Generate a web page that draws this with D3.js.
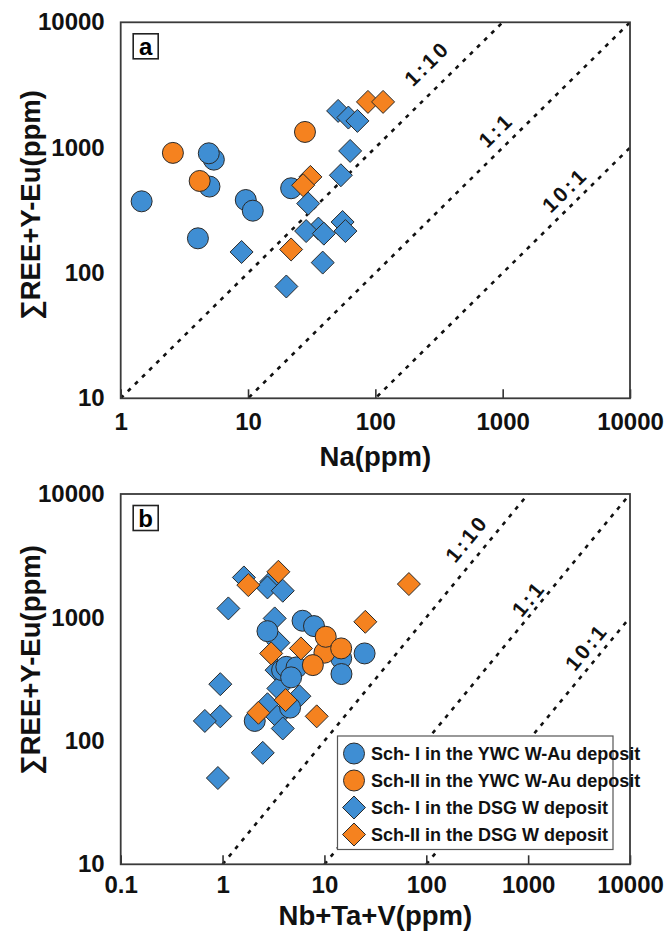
<!DOCTYPE html>
<html>
<head>
<meta charset="utf-8">
<script src="https://cdn.jsdelivr.net/npm/d3@7"></script>
<style>
  body { margin: 0; background: #fff; }
  svg { font-family: "Liberation Sans", Arial, sans-serif; font-weight: bold; }
  .tick text { font-size: 24px; fill: #111; }
  .axis-title { font-size: 27.5px; fill: #111; }
  .ratio-line { fill: none; stroke: #111; stroke-width: 2.6; stroke-dasharray: 4 6; }
  .ratio-label { font-size: 21px; fill: #111; letter-spacing: 3px; }
  .frame { fill: none; stroke: #3a3a3a; stroke-width: 1.8; }
  .marker { stroke: #2a2a2a; stroke-width: 1; }
  .legend-text { font-size: 18px; fill: #111; }
</style>
</head>
<body>
<div id="wrapper"></div>
<script>
// series (legend order)
const seriesNames = [
  "Sch- I in the YWC W-Au deposit",
  "Sch-II in the YWC W-Au deposit",
  "Sch- I in the DSG W deposit",
  "Sch-II in the DSG W deposit",
]

// panel a: Na (ppm) vs REE+Y-Eu (ppm)
const naYwc1 = [[1.46, 373], [5.39, 802], [4.92, 901], [4.98, 489], [9.6, 382], [10.9, 314], [4.04, 189], [21.8, 474]]
const naYwc2 = [[2.57, 908], [4.17, 542], [28, 1334]]
const naDsg1 = [[51, 1963], [61.4, 1738], [72.3, 1634], [63.4, 941], [53.6, 602], [29.7, 358],
  [35.7, 226], [28.6, 216], [39.4, 206], [55.3, 255], [58.2, 216], [8.9, 147], [38.6, 121], [20, 78]]
const naDsg2 = [[87.5, 2317], [115, 2317], [30.9, 584], [27.1, 501], [21.8, 154]]

// panel b: Nb+Ta+V (ppm) vs REE+Y-Eu (ppm)
const nbYwc1 = [[2.76, 774], [6.1, 940], [7.9, 851], [14.6, 466], [3.84, 374], [4.23, 398], [5.32, 394],
  [4.71, 327], [14.7, 348], [24.8, 511], [4.6, 186], [2.07, 145]]
const nbYwc2 = [[10, 518], [10.3, 697], [14.6, 561], [7.7, 411]]
const nbDsg1 = [[1.62, 2108], [3.0, 1945], [2.76, 1750], [3.9, 1645], [1.14, 1183], [3.25, 982], [3.53, 624],
  [0.95, 288], [3.39, 374], [3.53, 266], [5.68, 230], [2.76, 198], [3.44, 157], [0.95, 158], [0.67, 145],
  [3.9, 126], [2.48, 80], [0.9, 50]]
const nbDsg2 = [[3.53, 2344], [1.79, 1828], [67.5, 1864], [25.2, 922], [3.0, 511], [5.88, 561],
  [4.16, 214], [2.25, 169], [8.4, 158]]

// reference ratio lines (y = k * x)
const ratioNames = ["1:10", "1:1", "10:1"]
const ratioValues = [10, 1, 0.1]

const naTicks = [1, 10, 100, 1000, 10000]
const nbTicks = [0.1, 1, 10, 100, 1000, 10000]
const yTicks = [10, 100, 1000, 10000]

// styling
const seriesColors = ["#3f8ed3", "#f5821f", "#3f8ed3", "#f5821f"]
const seriesShapes = ["circle", "circle", "diamond", "diamond"]
const drawOrder = [2, 0, 1, 3]

const dims = { width: 668, height: 932, left: 120.7, right: 630, markerR: 10.5, diamondR: 11.5 }

const panels = [
  {
    id: "a", top: 22.3, bottom: 398.3, xDomain: [1, 10000], xTicks: naTicks, xPad: 15,
    xTitle: "Na(ppm)", xTitleY: 466, yTitleY: 205,
    series: [naYwc1, naYwc2, naDsg1, naDsg2],
    labelAt: [[255, 4710], [886, 1384], [3083, 460]],
  },
  {
    id: "b", top: 494, bottom: 864.3, xDomain: [0.1, 10000], xTicks: nbTicks, xPad: 12,
    xTitle: "Nb+Ta+V(ppm)", xTitleY: 925, yTitleY: 660,
    series: [nbYwc1, nbYwc2, nbDsg1, nbDsg2],
    labelAt: [[250, 4365], [1009, 1426], [3741, 578]],
    legend: true,
  },
]

const svg = d3.select("#wrapper").append("svg")
  .attr("width", dims.width)
  .attr("height", dims.height)

const diamondPath = r => `M0,${-r}L${r},0L0,${r}L${-r},0Z`

function drawMarker(sel, shape, color) {
  if (shape == "circle") {
    sel.append("circle").attr("class", "marker").attr("r", dims.markerR).attr("fill", color)
  } else {
    sel.append("path").attr("class", "marker").attr("d", diamondPath(dims.diamondR)).attr("fill", color)
  }
}

function drawPanel(p) {
  const x = d3.scaleLog().domain(p.xDomain).range([dims.left, dims.right])
  const y = d3.scaleLog().domain([10, 10000]).range([p.bottom, p.top])
  const g = svg.append("g")

  const clipId = "clip-" + p.id
  g.append("clipPath").attr("id", clipId)
    .append("rect")
      .attr("x", dims.left).attr("y", p.top)
      .attr("width", dims.right - dims.left).attr("height", p.bottom - p.top)

  // ratio lines
  const lineGen = d3.line().x(d => x(d[0])).y(d => y(d[1]))
  g.append("g").attr("clip-path", `url(#${clipId})`)
    .selectAll(".ratio-line")
    .data(ratioValues)
    .join("path")
      .attr("class", "ratio-line")
      .attr("d", k => lineGen(p.xDomain.map(v => [v, v * k])))

  g.selectAll(".ratio-label")
    .data(ratioValues)
    .join("text")
      .attr("class", "ratio-label")
      .attr("text-anchor", "middle")
      .attr("dy", "0.35em")
      .attr("transform", (k, i) => {
        const [lx, ly] = p.labelAt[i]
        const angle = Math.atan2(y(k * 10) - y(k), x(10) - x(1)) * 180 / Math.PI
        return `translate(${x(lx)},${y(ly)}) rotate(${angle})`
      })
      .text((k, i) => ratioNames[i])

  // points
  drawOrder.forEach(s => {
    g.append("g").selectAll("g")
      .data(p.series[s])
      .join("g")
        .attr("transform", d => `translate(${x(d[0])},${y(d[1])})`)
        .each(function() { drawMarker(d3.select(this), seriesShapes[s], seriesColors[s]) })
  })

  // axes
  g.append("g")
    .attr("transform", `translate(0,${p.bottom})`)
    .call(d3.axisBottom(x).tickValues(p.xTicks).tickFormat(d3.format("~g")).tickSize(-9).tickPadding(p.xPad))
    .call(a => a.select(".domain").remove())
    .call(a => a.selectAll(".tick line").attr("stroke", "#333").attr("stroke-width", 1.6))
  g.append("g")
    .attr("transform", `translate(${dims.left},0)`)
    .call(d3.axisLeft(y).tickValues(yTicks).tickFormat(d3.format("~g")).tickSize(0).tickPadding(16))
    .call(a => a.select(".domain").remove())

  g.append("rect")
    .attr("class", "frame")
    .attr("x", dims.left).attr("y", p.top)
    .attr("width", dims.right - dims.left).attr("height", p.bottom - p.top)

  // titles
  g.append("text")
    .attr("class", "axis-title")
    .attr("x", (dims.left + dims.right) / 2)
    .attr("y", p.xTitleY)
    .attr("text-anchor", "middle")
    .text(p.xTitle)
  g.append("text")
    .attr("class", "axis-title")
    .attr("transform", `translate(40,${p.yTitleY}) rotate(-90)`)
    .attr("text-anchor", "middle")
    .text("∑REE+Y-Eu(ppm)")

  // panel letter
  const tag = g.append("g").attr("transform", `translate(${dims.left + 12.5},${p.top + 11.5})`)
  tag.append("rect").attr("width", 25).attr("height", 25)
    .attr("fill", "#fff").attr("stroke", "#222").attr("stroke-width", 1.6)
  tag.append("text").attr("x", 12.5).attr("y", 12.5).attr("dy", "0.36em")
    .attr("text-anchor", "middle").style("font-size", "24px").text(p.id)

  if (p.legend) {
    const legend = g.append("g").attr("transform", "translate(337.5,736)")
    legend.append("rect").attr("width", 275.5).attr("height", 113.5)
      .attr("fill", "#fff").attr("stroke", "#555").attr("stroke-width", 1.2)
    const rows = legend.selectAll(".legend-row")
      .data(seriesNames)
      .join("g")
        .attr("class", "legend-row")
        .attr("transform", (d, i) => `translate(0,${17.5 + i * 27})`)
    rows.each(function(d, i) {
      const row = d3.select(this)
      drawMarker(row.append("g").attr("transform", "translate(16.5,0)"), seriesShapes[i], seriesColors[i])
      row.append("text").attr("class", "legend-text").attr("x", 33.5).attr("dy", "0.36em").text(d)
    })
  }
}

panels.forEach(drawPanel)
</script>
</body>
</html>
